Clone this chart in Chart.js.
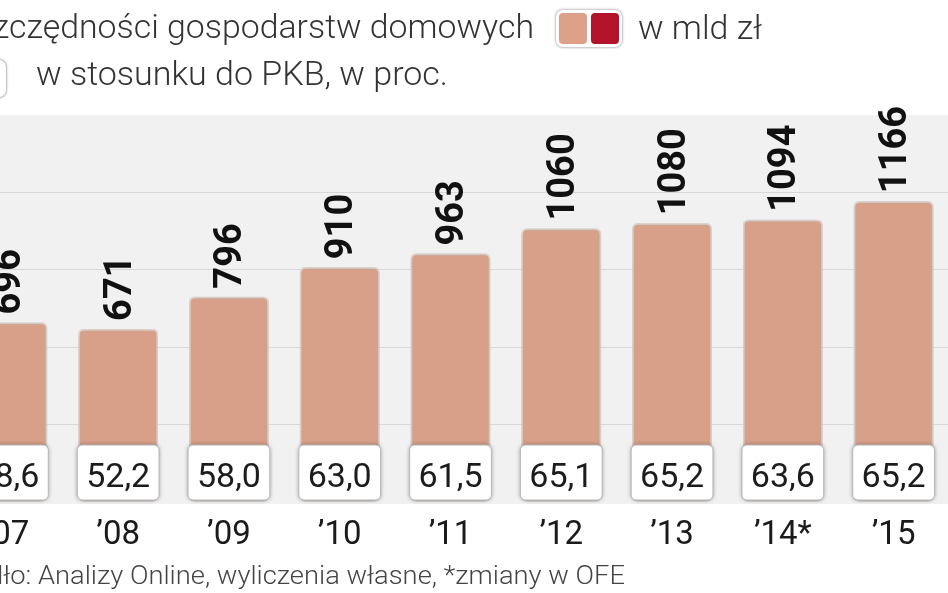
<!DOCTYPE html>
<html>
<head>
<meta charset="utf-8">
<script src="https://cdn.jsdelivr.net/npm/chart.js@4"></script>
<style>
html,body{margin:0;padding:0;background:#fff;}
#wrap{position:relative;width:948px;height:593px;overflow:hidden;background:#fff;}
#cw{position:absolute;left:-48px;top:0;width:997px;height:593px;}
.txt{position:absolute;white-space:nowrap;font-family:Roboto,"Noto Sans",sans-serif;font-weight:300;color:#333;line-height:1;}
#t1{right:414px;top:9px;font-size:34px;transform-origin:right center;}
#t2{left:638px;top:10px;font-size:34px;transform-origin:left center;}
#t3{left:36px;top:56px;font-size:34px;transform-origin:left center;}
#src{right:323px;top:563px;font-size:25px;color:#444;transform-origin:right center;}
#sw{position:absolute;left:556px;top:10px;width:66px;height:37px;border-radius:7px;background:#fff;box-shadow:0 0 2px 1px rgba(0,0,0,0.25);}
#sw .a,#sw .b{position:absolute;top:3px;width:28px;height:31px;border-radius:4px;}
#sw .a{left:3px;background:#dda088;}
#sw .b{left:35px;background:#b3122b;}
#ic2{position:absolute;left:-30px;top:60px;width:36px;height:37px;border-radius:7px;background:#fff;box-shadow:0 0 2px 1px rgba(0,0,0,0.3);}
</style>
</head>
<body>
<div id="wrap">
  <div id="cw"><canvas id="c"></canvas></div>
  <span id="t1" class="txt">Oszczędności gospodarstw domowych</span>
  <div id="sw"><div class="a"></div><div class="b"></div></div>
  <span id="t2" class="txt">w mld zł</span>
  <div id="ic2"></div>
  <span id="t3" class="txt">w stosunku do PKB, w proc.</span>
  <span id="src" class="txt">Źródło: Analizy Online, wyliczenia własne, *zmiany w OFE</span>
</div>
<script>
// ---- data ----
const categories = ['’07', '’08', '’09', '’10', '’11', '’12', '’13', '’14*', '’15'];
const savingsBln = [696, 671, 796, 910, 963, 1060, 1080, 1094, 1166];
const shareOfGdp = [58.6, 52.2, 58.0, 63.0, 61.5, 65.1, 65.2, 63.6, 65.2];
const yTicks = [0, 300, 600, 900, 1200, 1500];

const fmtPct = v => v.toFixed(1).replace('.', ',');

// fit HTML text widths
function fit(id, sub, target) {
  const el = document.getElementById(id);
  const cs = getComputedStyle(el);
  const cx = document.createElement('canvas').getContext('2d');
  cx.font = cs.fontWeight + ' ' + cs.fontSize + ' ' + cs.fontFamily;
  const w = cx.measureText(sub).width;
  el.style.transform = 'scaleX(' + (target / w) + ')';
}
fit('t1', 'gospodarstw domowych', 367);
fit('t2', 'w mld zł', 124);
fit('t3', 'w stosunku do PKB, w proc.', 412);
fit('src', 'Analizy Online, wyliczenia własne, *zmiany w OFE', 587);

const bgPlugin = {
  id: 'bg',
  beforeDraw(chart) {
    const {ctx, chartArea: a} = chart;
    ctx.save();
    ctx.fillStyle = '#f1f1f1';
    ctx.fillRect(a.left, a.top, a.right - a.left, a.bottom - a.top + 2);
    ctx.restore();
  },
  beforeDatasetsDraw(chart) {
    const ctx = chart.ctx;
    ctx.save();
    ctx.shadowColor = 'rgba(0,0,0,0.38)';
    ctx.shadowBlur = 4;
    ctx.shadowOffsetX = 0;
    ctx.shadowOffsetY = 0;
  },
  afterDatasetsDraw(chart) {
    const ctx = chart.ctx;
    ctx.restore();
    const meta = chart.getDatasetMeta(0);
    const bottom = chart.chartArea.bottom;
    meta.data.forEach((bar, i) => {
      const x = bar.x, w = bar.width;
      // value label, rotated
      ctx.save();
      ctx.translate(x + 1, bar.y - 8);
      ctx.rotate(-Math.PI / 2);
      ctx.font = 'bold 38px Roboto, "Noto Sans", sans-serif';
      ctx.fillStyle = '#111';
      ctx.textAlign = 'left';
      ctx.textBaseline = 'middle';
      ctx.fillText(String(savingsBln[i]), 0, 2);
      ctx.restore();
      // percentage box
      ctx.save();
      ctx.shadowColor = 'rgba(0,0,0,0.4)';
      ctx.shadowBlur = 4;
      ctx.fillStyle = '#ffffff';
      ctx.beginPath();
      ctx.roundRect(x - w / 2 - 1, bottom - 57, w + 2, 55, 5);
      ctx.fill();
      ctx.shadowColor = 'transparent';
      ctx.strokeStyle = '#b8b8b8';
      ctx.lineWidth = 1;
      ctx.stroke();
      ctx.font = '34px Roboto, "Noto Sans", sans-serif';
      ctx.fillStyle = '#1c1c1c';
      ctx.textAlign = 'center';
      ctx.textBaseline = 'alphabetic';
      ctx.fillText(fmtPct(shareOfGdp[i]), x, bottom - 15);
      ctx.restore();
    });
  }
};

new Chart(document.getElementById('c'), {
  type: 'bar',
  data: {
    labels: categories,
    datasets: [{
      label: 'w mld zł',
      data: savingsBln,
      backgroundColor: '#d9a089',
      borderColor: '#f6e4db',
      borderWidth: 2,
      borderRadius: 5,
      borderSkipped: false,
      barPercentage: 0.72,
      categoryPercentage: 1
    }]
  },
  options: {
    responsive: true,
    maintainAspectRatio: false,
    animation: false,
    layout: {padding: {top: 115, left: 0, right: 0, bottom: 0}},
    plugins: {legend: {display: false}, tooltip: {enabled: false}},
    scales: {
      x: {
        grid: {display: false, drawTicks: false},
        border: {display: false},
        ticks: {
          font: {family: 'Roboto, "Noto Sans", sans-serif', size: 33},
          color: '#1a1a1a',
          padding: 14,
          maxRotation: 0,
          autoSkip: false
        },
        afterFit(scale) { scale.height = 91; }
      },
      y: {
        min: yTicks[0],
        max: yTicks[yTicks.length - 1],
        afterBuildTicks(scale) { scale.ticks = yTicks.map(v => ({value: v})); },
        ticks: {display: false},
        grid: {
          drawTicks: false,
          color: c => (c.tick && (c.tick.value === 0 || c.tick.value === 1500)) ? 'rgba(0,0,0,0)' : '#d8d8d8',
          lineWidth: 1
        },
        border: {display: false},
        afterFit(scale) { scale.width = 0; }
      }
    }
  },
  plugins: [bgPlugin]
});
</script>
</body>
</html>
